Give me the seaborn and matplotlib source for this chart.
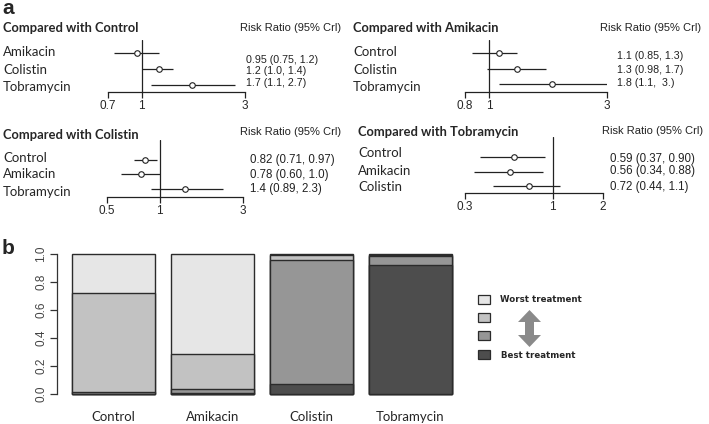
import matplotlib
matplotlib.use('Agg')
import matplotlib.pyplot as plt
import seaborn as sns
from matplotlib.patches import Rectangle, FancyArrow
from matplotlib.ticker import NullLocator

sns.set_style('white')
plt.rcParams['font.family'] = ['Liberation Sans', 'DejaVu Sans']

# ---- data: forest plots (risk ratio, 95% CrI) ----
ctrl_rows = ['Amikacin', 'Colistin', 'Tobramycin']
ctrl_est = [0.95, 1.2, 1.7]
ctrl_lo = [0.75, 1.0, 1.1]
ctrl_hi = [1.2, 1.4, 2.7]
ctrl_txt = ['0.95 (0.75, 1.2)', '1.2 (1.0, 1.4)', '1.7 (1.1, 2.7)']
ctrl_ticks = [0.7, 1, 3]

amik_rows = ['Control', 'Colistin', 'Tobramycin']
amik_est = [1.1, 1.3, 1.8]
amik_lo = [0.85, 0.98, 1.1]
amik_hi = [1.3, 1.7, 3.0]
amik_txt = ['1.1 (0.85, 1.3)', '1.3 (0.98, 1.7)', '1.8 (1.1,  3.)']
amik_ticks = [0.8, 1, 3]

coli_rows = ['Control', 'Amikacin', 'Tobramycin']
coli_est = [0.82, 0.78, 1.4]
coli_lo = [0.71, 0.60, 0.89]
coli_hi = [0.97, 1.0, 2.3]
coli_txt = ['0.82 (0.71, 0.97)', '0.78 (0.60, 1.0)', '1.4 (0.89, 2.3)']
coli_ticks = [0.5, 1, 3]

tobr_rows = ['Control', 'Amikacin', 'Colistin']
tobr_est = [0.59, 0.56, 0.72]
tobr_lo = [0.37, 0.34, 0.44]
tobr_hi = [0.90, 0.88, 1.1]
tobr_txt = ['0.59 (0.37, 0.90)', '0.56 (0.34, 0.88)', '0.72 (0.44, 1.1)']
tobr_ticks = [0.3, 1, 2]

# ---- data: rank probabilities ----
bar_cats = ['Control', 'Amikacin', 'Colistin', 'Tobramycin']
best = [0.003, 0.004, 0.07, 0.92]
second = [0.012, 0.032, 0.89, 0.068]
third = [0.705, 0.249, 0.03, 0.006]
worst = [0.28, 0.715, 0.01, 0.006]
rank_colors = ['#e6e6e6', '#c2c2c2', '#969696', '#4d4d4d']  # worst -> best

W, H = 709, 424
fig = plt.figure(figsize=(W / 100, H / 100), dpi=100)


def add_ax_px(x0, y0, x1, y1):
    return fig.add_axes([x0 / W, 1 - y1 / H, (x1 - x0) / W, (y1 - y0) / H])


# overlay axis in pixel coordinates for free text
ov = fig.add_axes([0, 0, 1, 1], zorder=5)
ov.set_xlim(0, W)
ov.set_ylim(H, 0)
ov.axis('off')

LABEL_FONT = ['Lato', 'DejaVu Sans']


def forest(title, rows, est, lo, hi, txt, ticks, lay):
    ax = add_ax_px(lay['ax_x'][0], lay['top'], lay['ax_x'][1], lay['ax_y'])
    r0, step = lay['row0'], lay['step']
    ax.set_ylim((lay['ax_y'] - r0) / step, (lay['top'] - r0) / step)
    ax.set_xscale('log')
    ax.set_xlim(ticks[0], ticks[-1])
    idx = list(range(len(rows)))
    ax.hlines(idx, lo, hi, color='#222222', lw=0.9)
    ax.axvline(1, color='#222222', lw=0.9)
    sns.scatterplot(x=est, y=idx, ax=ax, marker='o', color='white',
                    edgecolor='#222222', linewidth=0.8, s=16, zorder=3)
    ax.set_xticks(ticks)
    ax.set_xticklabels([str(t) for t in ticks])
    ax.xaxis.set_minor_locator(NullLocator())
    ax.set_yticks([])
    ax.patch.set_alpha(0)
    for s in ['top', 'left', 'right']:
        ax.spines[s].set_visible(False)
    ax.spines['bottom'].set_linewidth(0.9)
    ax.spines['bottom'].set_color('#222222')
    ax.tick_params(axis='x', direction='out', length=4.3, width=0.9,
                   color='#222222', pad=1.5, labelsize=8.5, bottom=True)
    ov.text(lay['lab_x'], lay['title_y'], title, fontsize=9.3, fontweight='bold',
            family=LABEL_FONT, va='center', ha='left')
    ov.text(lay['rr'][0], lay['rr'][1], 'Risk Ratio (95% Crl)', fontsize=8,
            va='center', ha='left', color='#222222')
    for name, y in zip(rows, lay['lab_y']):
        ov.text(lay['lab_x'], y, name, fontsize=9.5, family=LABEL_FONT,
                va='center', ha='left')
    for t, y in zip(txt, lay['txt_y']):
        ov.text(lay['txt_x'], y, t, fontsize=lay['txt_fs'], va='center',
                ha='left', color='#222222')


forest('Compared with Control', ctrl_rows, ctrl_est, ctrl_lo, ctrl_hi, ctrl_txt, ctrl_ticks,
       dict(ax_x=(108, 245), ax_y=92, top=40, row0=53, step=16, lab_x=3,
            title_y=28, rr=(240, 28), lab_y=[52, 70, 87], txt_x=246,
            txt_y=[60, 71.5, 83], txt_fs=7.7))
forest('Compared with Amikacin', amik_rows, amik_est, amik_lo, amik_hi, amik_txt, amik_ticks,
       dict(ax_x=(465, 607), ax_y=92, top=40, row0=53, step=15.5, lab_x=353,
            title_y=28, rr=(600, 28), lab_y=[52, 70, 87], txt_x=617,
            txt_y=[56, 70, 83], txt_fs=7.7))
forest('Compared with Colistin', coli_rows, coli_est, coli_lo, coli_hi, coli_txt, coli_ticks,
       dict(ax_x=(107, 243), ax_y=197, top=140, row0=160, step=14.5, lab_x=3,
            title_y=135, rr=(240, 132), lab_y=[158, 174, 192], txt_x=250,
            txt_y=[160, 175, 189], txt_fs=8.3))
forest('Compared with Tobramycin', tobr_rows, tobr_est, tobr_lo, tobr_hi, tobr_txt, tobr_ticks,
       dict(ax_x=(465, 603), ax_y=193, top=137, row0=157, step=14.5, lab_x=358,
            title_y=132, rr=(602, 131), lab_y=[153, 171, 187], txt_x=610,
            txt_y=[159, 171, 187], txt_fs=8.3))

# ---- panel b: stacked rank probabilities ----
axb = add_ax_px(57, 254, 460, 394)
layers = [best, second, third, worst]
cum = []
run = [0.0] * len(bar_cats)
for lay in layers:
    run = [a + b for a, b in zip(run, lay)]
    cum.append(run)
# draw from top layer (worst) down so lower layers sit over it
for c, col in zip(cum[::-1], rank_colors):
    sns.barplot(x=bar_cats, y=c, color=col, edgecolor='#2b2b2b', linewidth=1,
                width=0.84, saturation=1, errorbar=None, ax=axb)
for p in axb.patches:
    p.set_clip_on(False)
axb.set_xlim(-0.571, 3.5)
axb.set_ylim(0, 1)
axb.patch.set_alpha(0)
for s in ['top', 'right', 'bottom']:
    axb.spines[s].set_visible(False)
axb.spines['left'].set_bounds(0, 1)
axb.spines['left'].set_color('#333333')
axb.spines['left'].set_linewidth(0.9)
axb.set_yticks([0, 0.2, 0.4, 0.6, 0.8, 1.0])
axb.set_yticklabels(['0.0', '0.2', '0.4', '0.6', '0.8', '1.0'], rotation=90,
                    va='center', fontsize=8.5, color='#444444')
axb.tick_params(axis='y', direction='out', length=5, width=0.9, color='#333333',
                pad=2, left=True)
axb.tick_params(axis='x', length=0, pad=12)
for lab in axb.get_xticklabels():
    lab.set_family(LABEL_FONT)
    lab.set_fontsize(9.5)
axb.set_xlabel('')
axb.set_ylabel('')

# legend
leg_y = [299, 317, 335, 354]
for y, col in zip(leg_y, rank_colors):
    ov.add_patch(Rectangle((478, y - 4.5), 12, 9, facecolor=col,
                           edgecolor='#2b2b2b', lw=0.9))
ov.text(500, 299, 'Worst treatment', fontsize=6.2, fontweight='bold',
        family='DejaVu Sans', va='center')
ov.text(501, 356, 'Best treatment', fontsize=6.2, fontweight='bold',
        family='DejaVu Sans', va='center')
for y0, dy in ((331, -21), (326, 21)):
    ov.add_patch(FancyArrow(529.5, y0, 0, dy, width=9, head_width=23,
                            head_length=12, length_includes_head=True,
                            color='#8a8a8a', lw=0))

ov.text(2, 9, 'a', fontsize=15, fontweight='bold', va='center')
ov.text(2, 248, 'b', fontsize=15, fontweight='bold', va='center')

fig.savefig('out.png', dpi=100)
